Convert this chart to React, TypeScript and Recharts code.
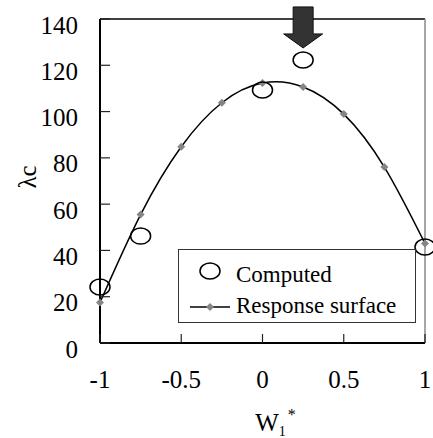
import React from 'react';
import {
  ComposedChart,
  Line,
  Scatter,
  XAxis,
  YAxis,
  ReferenceLine,
  ReferenceDot,
} from 'recharts';

// W1* grid and the fitted response surface values
const wValues = [-1, -0.75, -0.5, -0.25, 0, 0.25, 0.5, 0.75, 1];
const responseSurface = [17.5, 55.5, 84.8, 103.8, 112.3, 110.6, 98.9, 76, 43];

// computed critical loads
const computedW = [-1, -0.75, 0, 0.25, 1];
const computedValues = [24.2, 46.2, 109.3, 122.3, 41.5];

const xTicks = [-1, -0.5, 0, 0.5, 1];
const yTicks = [0, 20, 40, 60, 80, 100, 120, 140];

// arrow annotation points at the best computed design
const arrowW = 0.25;
const arrowTip = 127.5;

const FONT = 'Liberation Serif';

const surfaceData = wValues.map((w, i) => ({ w, rs: responseSurface[i] }));
const computedData = computedW.map((w, i) => ({ w, comp: computedValues[i] }));

const Diamond = (props: any) => {
  const { cx, cy } = props;
  if (cx == null || cy == null) return null;
  const r = 4;
  return (
    <polygon
      points={`${cx},${cy - r} ${cx + r},${cy} ${cx},${cy + r} ${cx - r},${cy}`}
      fill="#858585"
    />
  );
};

const OpenEllipse = (props: any) => {
  const { cx, cy } = props;
  return <ellipse cx={cx} cy={cy} rx={10} ry={8} fill="none" stroke="#000" strokeWidth={1.5} />;
};

const DownArrow = (props: any) => {
  const { cx, cy } = props;
  const pts = [
    [cx, cy],
    [cx - 19.5, cy - 14],
    [cx - 10, cy - 14],
    [cx - 10, cy - 41],
    [cx + 10, cy - 41],
    [cx + 10, cy - 14],
    [cx + 19.5, cy - 14],
  ]
    .map((p) => p.join(','))
    .join(' ');
  return <polygon points={pts} fill="#333" stroke="#111" strokeWidth={1} />;
};

// ticks point into the plot, so draw them together with the label
const Y_GAP = 22;
const X_GAP = 45;

const YTick = (props: any) => {
  const { x, y, payload } = props;
  return (
    <g>
      <path d={`M${x + Y_GAP},${y}h10`} stroke="#222" strokeWidth={1.2} fill="none" />
      <text x={x} y={y + 6} textAnchor="end" dominantBaseline="central" fontFamily={FONT} fontSize={25} fill="#000">
        {payload.value}
      </text>
    </g>
  );
};

const XTick = (props: any) => {
  const { x, y, payload } = props;
  return (
    <g>
      <path d={`M${x},${y - X_GAP}v-9`} stroke="#222" strokeWidth={1.2} fill="none" />
      <text x={x} y={y} textAnchor="middle" fontFamily={FONT} fontSize={25} fill="#000">
        {payload.value}
      </text>
    </g>
  );
};

// legend box drawn on top of the chart (Recharts' Legend would reserve plot space)
const LegendBox = () => (
  <svg width={238} height={74} style={{ display: 'block' }}>
    <rect x={0.5} y={0.5} width={237} height={73} fill="#fff" stroke="#333" strokeWidth={1} />
    <ellipse cx={32} cy={22} rx={10} ry={8} fill="none" stroke="#000" strokeWidth={1.5} />
    <line x1={12} y1={58} x2={52} y2={58} stroke="#000" strokeWidth={1.5} />
    <polygon points="32,54 36,58 32,62 28,58" fill="#858585" />
    <text x={58} y={33} fontFamily={FONT} fontSize={23} fill="#000">Computed</text>
    <text x={58} y={64} fontFamily={FONT} fontSize={23} fill="#000">Response surface</text>
  </svg>
);

export default function App() {
  return (
    <div style={{ position: 'absolute', left: 0, top: 0, width: 433, height: 438, background: '#fff' }}>
      <ComposedChart
        width={433}
        height={438}
        data={surfaceData}
        margin={{ top: 19, right: 8, left: 0, bottom: 0 }}
      >
        <XAxis
          dataKey="w"
          type="number"
          domain={[-1, 1]}
          ticks={xTicks}
          height={95}
          stroke="#000"
          strokeWidth={2}
          tickLine={false}
          tickSize={0}
          tickMargin={X_GAP}
          tick={XTick}
          label={{
            content: ({ viewBox }: any) => (
              <text
                x={viewBox.x + viewBox.width / 2 + 13}
                y={431}
                fontFamily={FONT}
                fontSize={25}
                fill="#000"
                textAnchor="middle"
              >
                W
                <tspan fontSize={14} dy={5}>1</tspan>
                <tspan fontSize={16} dx={2} dy={-16}>*</tspan>
              </text>
            ),
          }}
        />
        <YAxis
          type="number"
          domain={[0, 140]}
          ticks={yTicks}
          width={100}
          stroke="#000"
          strokeWidth={2}
          tickLine={false}
          tickSize={0}
          tickMargin={Y_GAP}
          tick={YTick}
          label={{
            content: ({ viewBox }: any) => {
              const cx = 27;
              const cy = viewBox.y + viewBox.height / 2 - 4;
              return (
                <text
                  x={cx}
                  y={cy}
                  transform={`rotate(-90 ${cx} ${cy})`}
                  textAnchor="middle"
                  dominantBaseline="central"
                  fontFamily={FONT}
                  fontSize={25}
                  fill="#000"
                >
                  λc
                </text>
              );
            },
          }}
        />
        <ReferenceLine y={140} stroke="#000" strokeWidth={1.5} />
        <ReferenceLine x={1} stroke="#888" strokeWidth={1.5} />

        <Line
          type="natural"
          dataKey="rs"
          stroke="#000"
          strokeWidth={1.5}
          dot={<Diamond />}
          activeDot={false}
          isAnimationActive={false}
        />
        <Scatter
          data={computedData}
          dataKey="comp"
          shape={<OpenEllipse />}
          isAnimationActive={false}
        />
        <ReferenceDot x={arrowW} y={arrowTip} ifOverflow="visible" shape={<DownArrow />} />
      </ComposedChart>
      <div style={{ position: 'absolute', left: 178, top: 249 }}>
        <LegendBox />
      </div>
    </div>
  );
}
